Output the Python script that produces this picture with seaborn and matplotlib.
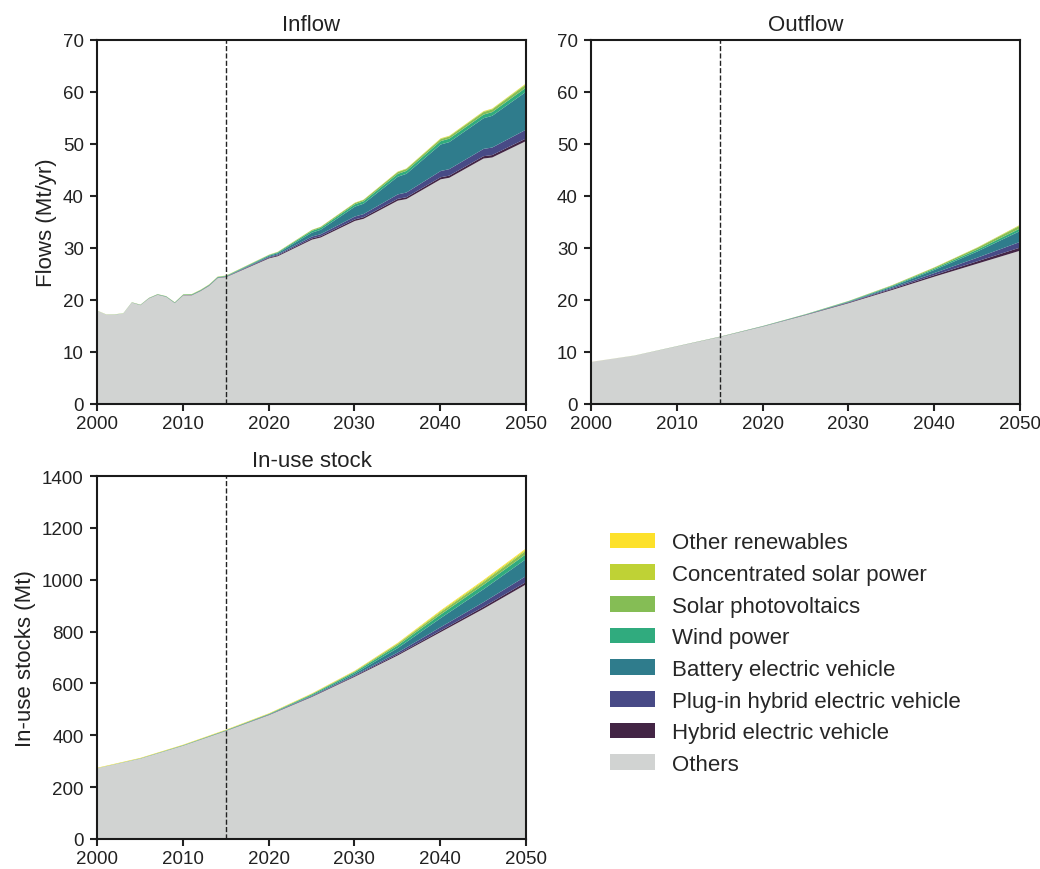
import numpy as np
import matplotlib
matplotlib.use("Agg")
import matplotlib.pyplot as plt
import seaborn as sns

# layer names, bottom to top
layers = ["Others", "Hybrid electric vehicle", "Plug-in hybrid electric vehicle",
          "Battery electric vehicle", "Wind power", "Solar photovoltaics",
          "Concentrated solar power", "Other renewables"]
colors = ["#d1d3d2", "#432545", "#484a86", "#2f7c8c", "#30ab7e", "#85bd55",
          "#bfd235", "#fde12a"]

# Inflow (Mt/yr)
in_years = [2000, 2001, 2002, 2003, 2004, 2005, 2006, 2007, 2008, 2009, 2010,
            2011, 2012, 2013, 2014, 2015, 2020, 2021, 2025, 2026, 2030, 2031,
            2035, 2036, 2040, 2041, 2045, 2046, 2050]
in_others = [18.0, 17.3, 17.3, 17.5, 19.6, 19.1, 20.4, 21.1, 20.7, 19.5, 21.0,
             21.0, 21.8, 22.8, 24.3, 24.5, 28.1, 28.5, 31.7, 32.1, 35.3, 35.7,
             39.2, 39.5, 43.3, 43.6, 47.3, 47.5, 50.7]
in_hev = [0, 0, 0, 0, 0.01, 0.02, 0.03, 0.03, 0.03, 0.04, 0.05, 0.05, 0.06, 0.06,
          0.06, 0.06, 0.15, 0.17, 0.25, 0.26, 0.30, 0.31, 0.35, 0.36, 0.40, 0.41,
          0.45, 0.46, 0.50]
in_phev = [0, 0, 0, 0, 0, 0, 0, 0, 0, 0, 0, 0.01, 0.01, 0.02, 0.02, 0.03, 0.15,
           0.18, 0.35, 0.38, 0.55, 0.60, 0.85, 0.90, 1.20, 1.25, 1.40, 1.45, 1.70]
in_bev = [0, 0, 0, 0, 0, 0, 0, 0, 0, 0, 0, 0.01, 0.01, 0.02, 0.03, 0.04, 0.20,
          0.25, 0.75, 0.85, 1.90, 2.00, 3.40, 3.60, 5.10, 5.20, 5.90, 6.10, 7.30]
in_wind = [0.02, 0.02, 0.03, 0.03, 0.04, 0.05, 0.06, 0.07, 0.08, 0.08, 0.09, 0.10,
           0.10, 0.10, 0.10, 0.10, 0.13, 0.16, 0.35, 0.37, 0.45, 0.46, 0.55, 0.56,
           0.65, 0.66, 0.70, 0.72, 0.80]
in_pv = [0, 0, 0, 0, 0, 0.01, 0.01, 0.01, 0.01, 0.02, 0.03, 0.05, 0.05, 0.05, 0.05,
         0.05, 0.06, 0.07, 0.17, 0.18, 0.25, 0.26, 0.35, 0.36, 0.40, 0.41, 0.50,
         0.51, 0.60]
in_csp = [0, 0, 0, 0, 0, 0, 0, 0, 0, 0, 0.01, 0.01, 0.01, 0.01, 0.01, 0.01, 0.01,
          0.01, 0.02, 0.02, 0.04, 0.04, 0.07, 0.07, 0.10, 0.10, 0.12, 0.12, 0.15]
in_orn = [0.02] * 16 + [0.02, 0.02, 0.02, 0.02, 0.03, 0.03, 0.03, 0.03, 0.05,
                        0.05, 0.05, 0.05, 0.06]

# Outflow (Mt/yr)
out_years = [2000, 2005, 2010, 2015, 2020, 2025, 2030, 2035, 2040, 2045, 2050]
out_others = [8.2, 9.4, 11.2, 13.0, 15.0, 17.2, 19.5, 22.0, 24.6, 27.1, 29.6]
out_hev = [0, 0, 0.01, 0.02, 0.03, 0.06, 0.12, 0.20, 0.30, 0.45, 0.60]
out_phev = [0, 0, 0, 0, 0.01, 0.03, 0.08, 0.20, 0.40, 0.70, 1.10]
out_bev = [0, 0, 0, 0, 0.01, 0.02, 0.08, 0.25, 0.60, 1.20, 2.10]
out_wind = [0, 0.01, 0.02, 0.03, 0.05, 0.06, 0.10, 0.15, 0.25, 0.35, 0.50]
out_pv = [0, 0, 0, 0.01, 0.01, 0.02, 0.04, 0.10, 0.20, 0.35, 0.55]
out_csp = [0, 0, 0, 0, 0, 0, 0.01, 0.02, 0.04, 0.07, 0.12]
out_orn = [0.01, 0.01, 0.01, 0.01, 0.01, 0.01, 0.01, 0.01, 0.02, 0.02, 0.03]

# In-use stock (Mt)
st_years = [2000, 2005, 2010, 2015, 2020, 2025, 2030, 2035, 2040, 2045, 2050]
st_others = [275, 312, 362, 419, 480, 550, 628, 710, 800, 890, 985]
st_hev = [0, 0.2, 0.5, 0.8, 1.2, 2, 3, 4.5, 6, 7.5, 9]
st_phev = [0, 0, 0, 0.1, 0.5, 1.5, 3, 7, 13, 18, 23]
st_bev = [0, 0, 0, 0.1, 0.8, 2.5, 6, 17, 35, 50, 66]
st_wind = [0.5, 1, 1.5, 1.8, 2, 4, 6, 10, 14, 17, 19]
st_pv = [0, 0.1, 0.3, 0.6, 0.8, 1.8, 3, 6, 9, 11, 13]
st_csp = [0, 0, 0.1, 0.2, 0.2, 0.5, 1, 2.5, 4, 4.5, 5]
st_orn = [1.5, 1.5, 1.5, 1.5, 1.5, 1.5, 1.5, 2, 3, 3.5, 4]

sns.set_style("ticks")
plt.rcParams["font.family"] = ["Liberation Sans", "DejaVu Sans"]
plt.rcParams["axes.linewidth"] = 1.5
plt.rcParams["xtick.major.width"] = 1.5
plt.rcParams["ytick.major.width"] = 1.5
plt.rcParams["xtick.major.size"] = 5
plt.rcParams["ytick.major.size"] = 5
plt.rcParams["xtick.major.pad"] = 3
plt.rcParams["ytick.major.pad"] = 4.5

fig = plt.figure(figsize=(10.4, 8.7), dpi=100)
ax_in = fig.add_axes([0.0933, 0.5345, 0.4125, 0.4184])
ax_out = fig.add_axes([0.5683, 0.5345, 0.4125, 0.4184])
ax_st = fig.add_axes([0.0933, 0.0345, 0.4125, 0.4172])

panels = [
    (ax_in, in_years, [in_others, in_hev, in_phev, in_bev, in_wind, in_pv, in_csp, in_orn],
     "Inflow", "Flows (Mt/yr)", 70, 10),
    (ax_out, out_years, [out_others, out_hev, out_phev, out_bev, out_wind, out_pv, out_csp, out_orn],
     "Outflow", None, 70, 10),
    (ax_st, st_years, [st_others, st_hev, st_phev, st_bev, st_wind, st_pv, st_csp, st_orn],
     "In-use stock", "In-use stocks (Mt)", 1400, 200),
]

for ax, yrs, vals, title, ylab, ymax, ystep in panels:
    ax.stackplot(yrs, *vals, colors=colors, labels=layers, linewidth=0)
    ax.axvline(2015, color="#222222", linestyle="--", linewidth=1)
    ax.set_xlim(2000, 2050)
    ax.set_ylim(0, ymax)
    ax.set_xticks(np.arange(2000, 2051, 10))
    ax.set_yticks(np.arange(0, ymax + 1, ystep))
    ax.tick_params(labelsize=13.5, colors="#222222")
    ax.set_title(title, fontsize=16, color="#222222", pad=7)
    if ylab:
        ax.set_ylabel(ylab, fontsize=16, color="#222222", labelpad=4)
    for sp in ax.spines.values():
        sp.set_color("#1a1a1a")

fig.align_ylabels([ax_in, ax_st])

handles, labels = ax_in.get_legend_handles_labels()
fig.legend(handles[::-1], labels[::-1], loc="upper left",
           bbox_to_anchor=(0.5675, 0.410), frameon=False, fontsize=16,
           labelspacing=0.48, handlelength=2.0, handleheight=0.7)

fig.savefig("out.png", dpi=100)
